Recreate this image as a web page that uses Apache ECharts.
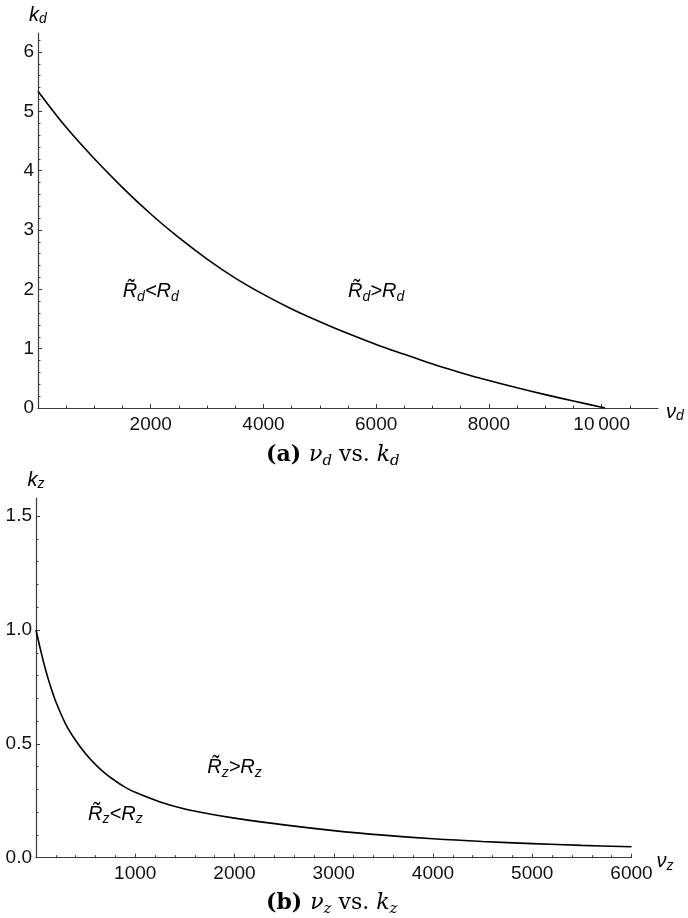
<!DOCTYPE html>
<html>
<head>
<meta charset="utf-8">
<script src="https://cdn.jsdelivr.net/npm/echarts@6/dist/echarts.min.js"></script>
<style>html,body{margin:0;padding:0;background:#fff}#c{width:688px;height:918px}</style>
</head>
<body>
<div id="c"></div>
<script>
// ---- data (a): nu_d vs k_d ----
const nuD = [0, 500, 1000, 1500, 2000, 2500, 3000, 3500, 4000, 4500, 5000, 5500, 6000, 6500, 7000, 7500, 8000, 8500, 9000, 9500, 10000, 10060];
const kD  = [5.34, 4.73, 4.20, 3.715, 3.27, 2.87, 2.51, 2.19, 1.915, 1.67, 1.455, 1.255, 1.072, 0.905, 0.74, 0.595, 0.463, 0.34, 0.225, 0.118, 0.013, 0];
// ---- data (b): nu_z vs k_z ----
const nuZ = [0, 50, 100, 150, 200, 300, 400, 500, 600, 700, 800, 900, 1000, 1250, 1500, 1750, 2000, 2500, 3000, 3500, 4000, 4500, 5000, 5500, 6000];
const kZ  = [1.0, 0.905, 0.82, 0.7475, 0.685, 0.586, 0.515, 0.457, 0.409, 0.369, 0.337, 0.309, 0.287, 0.245, 0.214, 0.192, 0.174, 0.144, 0.119, 0.099, 0.083, 0.071, 0.062, 0.054, 0.048];
// ---- region annotations [nu, k, relation, subscript] ----
const notesA = [[2000, 1.96, 'lt', 'd'], [6000, 1.96, 'gt', 'd']];
const notesB = [[800, 0.19, 'lt', 'z'], [2000, 0.395, 'gt', 'z']];
// ---- tick labels ----
const ticksXA = [2000, 4000, 6000, 8000, 10000];
const ticksYA = [0, 1, 2, 3, 4, 5, 6];
const ticksXB = [1000, 2000, 3000, 4000, 5000, 6000];
const ticksYB = [0, 0.5, 1.0, 1.5];

const SANS = 'Liberation Sans, Arial, Helvetica, sans-serif';
const SERIF = 'DejaVu Serif, Liberation Serif, serif';
const AX = '#3a3a3a';
const TXT = '#111';

function pairs(xs, ys) { return xs.map((x, i) => [x, ys[i]]); }

const noteRich = {
  r: { fontFamily: SANS, fontStyle: 'italic', fontWeight: 'normal', fontSize: 20, lineHeight: 24, color: '#000' },
  s: { fontFamily: SANS, fontStyle: 'italic', fontWeight: 'normal', fontSize: 14, lineHeight: 14, verticalAlign: 'bottom', color: '#000' }
};
function noteText(kind, sub) {
  const op = kind === 'lt' ? '<' : '>';
  return '{r|R\u0303}{s|' + sub + '}{r|' + op + 'R}{s|' + sub + '}';
}
const nameRich = {
  m: { fontFamily: SANS, fontStyle: 'italic', fontWeight: 'normal', fontSize: 20, lineHeight: 22, color: '#000' },
  s: { fontFamily: SANS, fontStyle: 'italic', fontWeight: 'normal', fontSize: 14, lineHeight: 14, verticalAlign: 'bottom', color: '#000' }
};
const capRich = {
  b: { fontFamily: SERIF, fontWeight: 'bold', fontSize: 22, lineHeight: 28, color: '#000' },
  sp: { fontFamily: SERIF, fontWeight: 'normal', fontSize: 22, lineHeight: 28, width: 8 },
  m: { fontFamily: SERIF, fontStyle: 'italic', fontWeight: 'normal', fontSize: 22, lineHeight: 28, color: '#000' },
  n: { fontFamily: SERIF, fontStyle: 'normal', fontWeight: 'normal', fontSize: 22, lineHeight: 28, color: '#000' },
  s: { fontFamily: SERIF, fontStyle: 'italic', fontWeight: 'normal', fontSize: 15, lineHeight: 15, verticalAlign: 'bottom', color: '#000' }
};
function caption(tag, sub) {
  return '{b|(' + tag + ')}{sp| }{m|\u03bd}{s|' + sub + '}{n| vs. }{m|k}{s|' + sub + '}';
}

function xAxisCfg(gi, max, interval, minorSplit, ticks, sub, fmt) {
  return {
    type: 'value', gridIndex: gi, min: 0, max: max, interval: interval,
    name: '{m|\u03bd}{s|' + sub + '}', nameLocation: 'end', nameGap: 8,
    nameTextStyle: { rich: nameRich, padding: [8, 0, 0, 0] },
    axisLine: { show: true, onZero: true, lineStyle: { color: AX, width: 1.2 } },
    axisTick: { show: true, inside: true, length: 4, customValues: ticks, lineStyle: { color: AX, width: 1 } },
    minorTick: { show: true, splitNumber: minorSplit, length: 2.5, lineStyle: { color: AX, width: 1 } },
    axisLabel: { show: true, customValues: ticks, margin: 7, color: TXT, fontFamily: SANS, fontSize: 19, formatter: fmt },
    splitLine: { show: false }
  };
}
function yAxisCfg(gi, max, interval, minorSplit, ticks, sub, fmt) {
  return {
    type: 'value', gridIndex: gi, min: 0, max: max, interval: interval,
    name: '{m|k}{s|' + sub + '}', nameLocation: 'end', nameGap: 7,
    nameTextStyle: { rich: nameRich, align: 'center' },
    axisLine: { show: true, onZero: true, lineStyle: { color: AX, width: 1.2 } },
    axisTick: { show: true, inside: true, length: 4, customValues: ticks, lineStyle: { color: AX, width: 1 } },
    minorTick: { show: true, splitNumber: minorSplit, length: 2.5, lineStyle: { color: AX, width: 1 } },
    axisLabel: { show: true, customValues: ticks, margin: 4, color: TXT, fontFamily: SANS, fontSize: 19, formatter: fmt },
    splitLine: { show: false }
  };
}

const chart = echarts.init(document.getElementById('c'), null, { renderer: 'canvas' });
chart.setOption({
  backgroundColor: '#fff',
  animation: false,
  title: [
    { text: caption('a', 'd'), left: 266, top: 441, padding: 0, textStyle: { fontWeight: 'normal', rich: capRich } },
    { text: caption('b', 'z'), left: 266, top: 889, padding: 0, textStyle: { fontWeight: 'normal', rich: capRich } }
  ],
  grid: [
    { left: 38, top: 33, width: 620, height: 375, containLabel: false },
    { left: 36, top: 498, width: 595.5, height: 359.7, containLabel: false }
  ],
  xAxis: [
    xAxisCfg(0, 11000, 2000, 4, ticksXA, 'd', v => v === 10000 ? '10\u2009000' : String(v)),
    xAxisCfg(1, 6000, 1000, 5, ticksXB, 'z', v => String(v))
  ],
  yAxis: [
    yAxisCfg(0, 6.32, 1, 5, ticksYA, 'd', v => String(v)),
    yAxisCfg(1, 1.58, 0.5, 5, ticksYB, 'z', v => v.toFixed(1))
  ],
  series: [
    {
      type: 'line', xAxisIndex: 0, yAxisIndex: 0, data: pairs(nuD, kD),
      showSymbol: false, symbol: 'none', smooth: 0.35,
      lineStyle: { color: '#000', width: 1.6 }, z: 3
    },
    {
      type: 'line', xAxisIndex: 1, yAxisIndex: 1, data: pairs(nuZ, kZ),
      showSymbol: false, symbol: 'none', smooth: 0.35,
      lineStyle: { color: '#000', width: 1.6 }, z: 3
    },
    {
      type: 'scatter', xAxisIndex: 0, yAxisIndex: 0, symbolSize: 0, silent: true,
      itemStyle: { color: '#000', opacity: 1 },
      data: notesA.map(n => ({ value: [n[0], n[1]], label: { formatter: noteText(n[2], n[3]) } })),
      label: { show: true, position: 'inside', color: '#000', rich: noteRich }
    },
    {
      type: 'scatter', xAxisIndex: 1, yAxisIndex: 1, symbolSize: 0, silent: true,
      itemStyle: { color: '#000', opacity: 1 },
      data: notesB.map(n => ({ value: [n[0], n[1]], label: { formatter: noteText(n[2], n[3]) } })),
      label: { show: true, position: 'inside', color: '#000', rich: noteRich }
    }
  ]
});
</script>
</body>
</html>
